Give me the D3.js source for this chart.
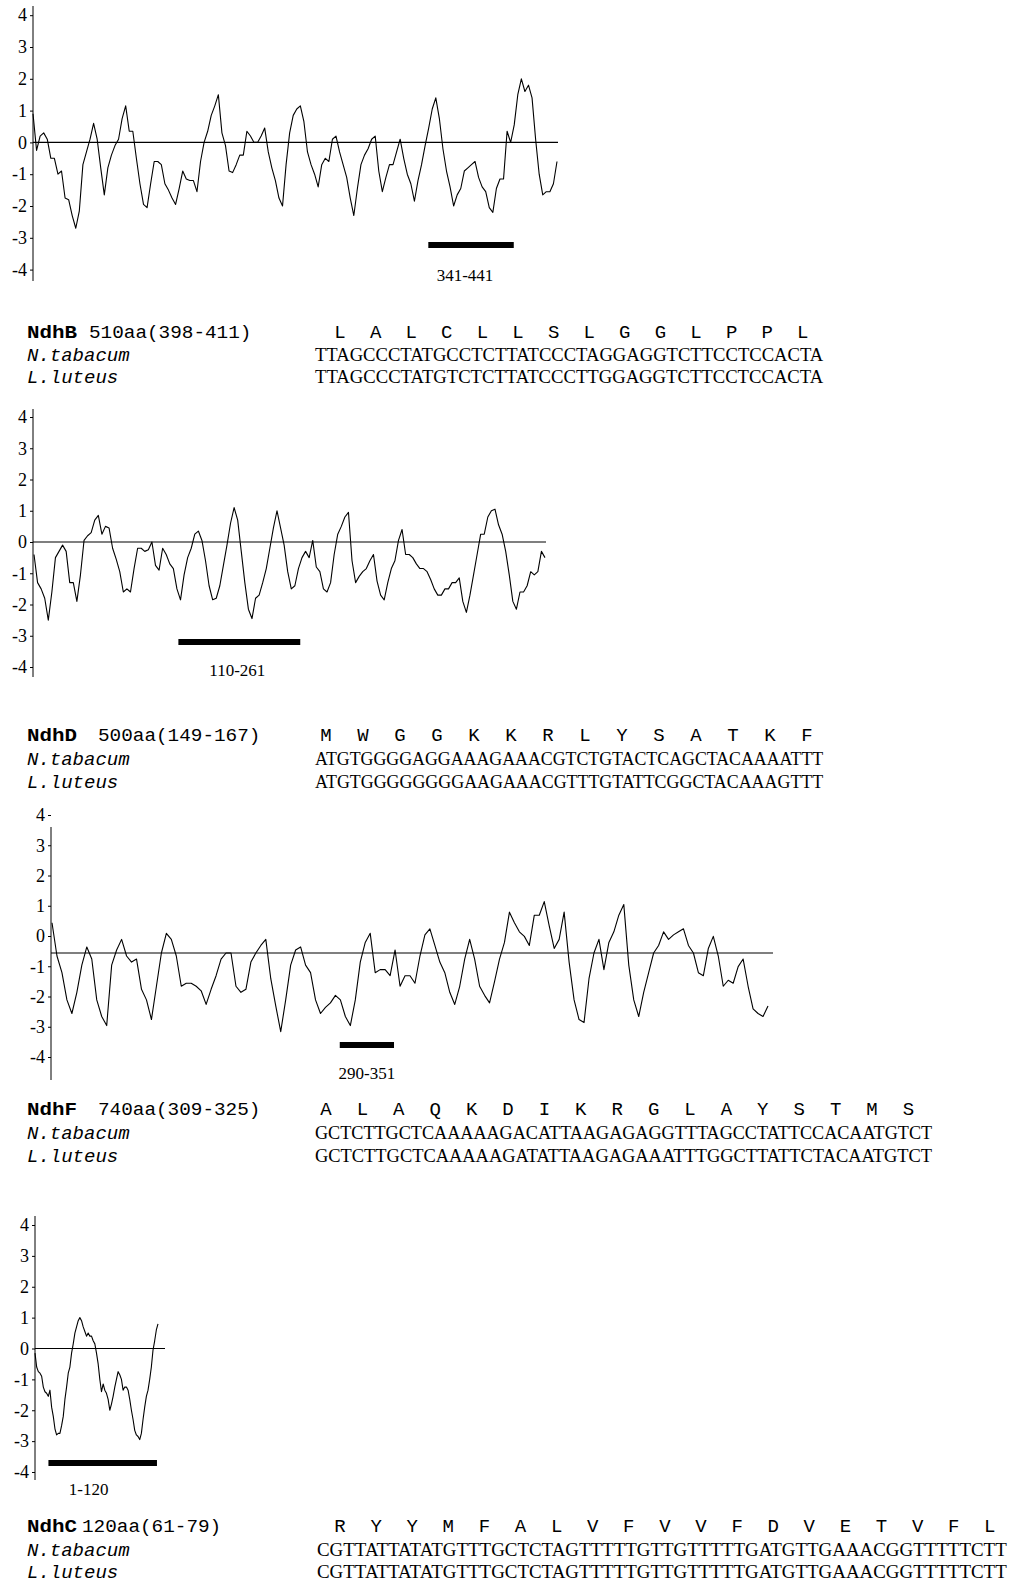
<!DOCTYPE html>
<html>
<head>
<meta charset="utf-8">
<script src="https://cdn.jsdelivr.net/npm/d3@7"></script>
<style>
  body { margin: 0; background: #fff; }
  svg { display: block; }
</style>
</head>
<body>
<svg id="fig" width="1013" height="1584"></svg>
<script>
// hydropathy profiles, values at even steps along each protein
const yTicks = [-4, -3, -2, -1, 0, 1, 2, 3, 4]

const ndhBLength = 510
const ndhBProfile = [
  0.9, -0.25, 0.2, 0.3, 0.1, -0.5, -0.5, -1.0, -0.9, -1.75,
  -1.8, -2.3, -2.7, -2.15, -0.7, -0.3, 0.1, 0.6, 0.1, -0.8,
  -1.65, -0.8, -0.4, -0.1, 0.1, 0.75, 1.15, 0.35, 0.35, -0.5,
  -1.3, -1.95, -2.05, -1.3, -0.6, -0.6, -0.7, -1.3, -1.5, -1.75,
  -1.95, -1.45, -0.9, -1.15, -1.2, -1.2, -1.55, -0.6, 0.0, 0.35,
  0.85, 1.15, 1.5, 0.3, -0.1, -0.9, -0.95, -0.7, -0.4, -0.4,
  0.35, 0.2, 0.0, 0.0, 0.2, 0.45, -0.3, -0.8, -1.2, -1.75,
  -2.0, -0.7, 0.3, 0.85, 1.05, 1.15, 0.65, -0.3, -0.7, -1.0,
  -1.4, -0.7, -0.5, -0.6, 0.1, 0.2, -0.3, -0.7, -1.1, -1.75,
  -2.3, -1.45, -0.7, -0.4, -0.2, 0.1, 0.2, -0.9, -1.55, -1.1,
  -0.7, -0.7, -0.3, 0.1, -0.5, -1.0, -1.3, -1.85, -1.2, -0.7,
  -0.1, 0.45, 1.05, 1.4, 0.75, -0.2, -0.9, -1.4, -2.0, -1.65,
  -1.45, -0.9, -0.8, -0.7, -0.6, -1.1, -1.4, -1.55, -2.05, -2.2,
  -1.45, -1.15, -1.15, 0.35, 0.0, 0.55, 1.5, 2.0, 1.6, 1.8,
  1.4, 0.1, -1.0, -1.65, -1.55, -1.55, -1.3, -0.6
]
const ndhBRegion = [385, 468]
const ndhBRegionLabel = '341-441'

const ndhDLength = 500
const ndhDProfile = [
  -0.4, -1.3, -1.5, -1.8, -2.5, -1.6, -0.5, -0.3, -0.1, -0.3,
  -1.3, -1.3, -1.9, -1.05, 0.05, 0.2, 0.3, 0.7, 0.85, 0.25,
  0.5, 0.45, -0.2, -0.55, -0.95, -1.6, -1.5, -1.6, -0.85, -0.2,
  -0.2, -0.3, -0.25, 0.0, -0.75, -0.9, -0.2, -0.4, -0.7, -0.85,
  -1.5, -1.85, -1.05, -0.5, -0.2, 0.25, 0.35, 0.05, -0.6, -1.4,
  -1.85, -1.8, -1.4, -0.75, -0.1, 0.6, 1.1, 0.7, -0.3, -1.3,
  -2.15, -2.45, -1.8, -1.7, -1.3, -0.85, -0.2, 0.45, 1.0, 0.45,
  -0.1, -0.95, -1.5, -1.4, -0.85, -0.5, -0.3, -0.5, 0.05, -0.8,
  -0.95, -1.5, -1.6, -1.3, -0.4, 0.25, 0.5, 0.8, 0.95, -0.6,
  -1.3, -1.1, -0.95, -0.85, -0.6, -0.4, -1.25, -1.7, -1.85, -1.3,
  -0.85, -0.6, 0.05, 0.4, -0.4, -0.4, -0.5, -0.7, -0.85, -0.85,
  -0.95, -1.2, -1.5, -1.7, -1.7, -1.5, -1.5, -1.3, -1.3, -1.15,
  -1.9, -2.25, -1.7, -1.05, -0.4, 0.25, 0.25, 0.8, 1.0, 1.05,
  0.55, 0.25, -0.3, -1.05, -1.9, -2.15, -1.6, -1.6, -1.4, -0.95,
  -1.05, -0.95, -0.3, -0.5
]
const ndhDRegion = [142, 261]
const ndhDRegionLabel = '110-261'

const ndhFLength = 740
const ndhFProfile = [
  1.0, -0.1, -0.65, -1.55, -2.0, -1.3, -0.4, 0.2, -0.2, -1.55,
  -2.1, -2.4, -0.4, 0.1, 0.45, -0.1, -0.3, -0.2, -1.2, -1.55,
  -2.2, -1.1, 0.0, 0.65, 0.45, -0.1, -1.1, -1.0, -1.0, -1.1,
  -1.25, -1.7, -1.2, -0.75, -0.2, 0.0, 0.0, -1.1, -1.3, -1.2,
  -0.3, 0.0, 0.25, 0.45, -0.85, -1.75, -2.6, -1.55, -0.4, 0.1,
  0.2, -0.4, -0.65, -1.55, -2.0, -1.8, -1.65, -1.4, -1.55, -2.1,
  -2.4, -1.55, -0.3, 0.35, 0.65, -0.65, -0.55, -0.55, -0.75, 0.1,
  -1.1, -0.75, -0.75, -1.0, -0.1, 0.6, 0.8, 0.25, -0.3, -0.65,
  -1.3, -1.7, -1.1, -0.2, 0.45, -0.2, -1.1, -1.4, -1.65, -0.95,
  -0.2, 0.35, 1.35, 1.0, 0.7, 0.55, 0.25, 1.25, 1.25, 1.7,
  0.9, 0.15, 0.45, 1.35, -0.3, -1.55, -2.2, -2.3, -0.85, 0.0,
  0.45, -0.55, 0.35, 0.7, 1.25, 1.6, -0.4, -1.55, -2.1, -1.3,
  -0.65, 0.0, 0.25, 0.7, 0.45, 0.6, 0.7, 0.8, 0.25, 0.0,
  -0.65, -0.75, 0.15, 0.55, -0.1, -1.1, -0.9, -1.0, -0.45, -0.2,
  -1.1, -1.85, -2.0, -2.1, -1.75
]
const ndhFRegion = [298, 354]
const ndhFRegionLabel = '290-351'

const ndhCLength = 120
const ndhCProfile = [
  -0.15, -0.6, -0.75, -0.8, -0.9, -1.25, -1.4, -1.45, -1.55, -1.35,
  -1.9, -2.2, -2.6, -2.8, -2.75, -2.75, -2.5, -2.2, -1.65, -1.25,
  -0.8, -0.6, -0.15, 0.15, 0.5, 0.7, 0.9, 1.0, 0.9, 0.7,
  0.55, 0.4, 0.5, 0.4, 0.4, 0.25, 0.15, -0.15, -0.5, -1.0,
  -1.4, -1.15, -1.35, -1.45, -1.65, -2.0, -1.8, -1.55, -1.25, -1.0,
  -0.75, -0.85, -1.0, -1.35, -1.25, -1.25, -1.35, -1.65, -2.0, -2.3,
  -2.65, -2.8, -2.85, -2.95, -2.75, -2.3, -1.9, -1.55, -1.35, -1.0,
  -0.6, -0.05, 0.25, 0.6, 0.8
]
const ndhCRegion = [14, 119]
const ndhCRegionLabel = '1-120'

// sequence rows
const ndhBInfo = '510aa(398-411)'
const ndhBAmino = ['L', 'A', 'L', 'C', 'L', 'L', 'S', 'L', 'G', 'G', 'L', 'P', 'P', 'L']
const ndhBTabacum = 'TTAGCCCTATGCCTCTTATCCCTAGGAGGTCTTCCTCCACTA'
const ndhBLuteus = 'TTAGCCCTATGTCTCTTATCCCTTGGAGGTCTTCCTCCACTA'

const ndhDInfo = '500aa(149-167)'
const ndhDAmino = ['M', 'W', 'G', 'G', 'K', 'K', 'R', 'L', 'Y', 'S', 'A', 'T', 'K', 'F']
const ndhDTabacum = 'ATGTGGGGAGGAAAGAAACGTCTGTACTCAGCTACAAAATTT'
const ndhDLuteus = 'ATGTGGGGGGGGAAGAAACGTTTGTATTCGGCTACAAAGTTT'

const ndhFInfo = '740aa(309-325)'
const ndhFAmino = ['A', 'L', 'A', 'Q', 'K', 'D', 'I', 'K', 'R', 'G', 'L', 'A', 'Y', 'S', 'T', 'M', 'S']
const ndhFTabacum = 'GCTCTTGCTCAAAAAGACATTAAGAGAGGTTTAGCCTATTCCACAATGTCT'
const ndhFLuteus = 'GCTCTTGCTCAAAAAGATATTAAGAGAAATTTGGCTTATTCTACAATGTCT'

const ndhCInfo = '120aa(61-79)'
const ndhCAmino = ['R', 'Y', 'Y', 'M', 'F', 'A', 'L', 'V', 'F', 'V', 'V', 'F', 'D', 'V', 'E', 'T', 'V', 'F', 'L']
const ndhCTabacum = 'CGTTATTATATGTTTGCTCTAGTTTTTGTTGTTTTTGATGTTGAAACGGTTTTTCTT'
const ndhCLuteus = 'CGTTATTATATGTTTGCTCTAGTTTTTGTTGTTTTTGATGTTGAAACGGTTTTTCTT'

const svg = d3.select('#fig')
const serif = "'Liberation Serif', 'Times New Roman', serif"
const mono = "'Liberation Mono', 'DejaVu Sans Mono', monospace"

drawPanel({
  length: ndhBLength, profile: ndhBProfile, region: ndhBRegion, regionLabel: ndhBRegionLabel,
  axisX: 33, axisTop: 6, axisBottom: 281, tickRange: [269.6, 15.2], traceRange: [269.6, 15.2],
  xRange: [33, 557], zeroEnd: 558, barY: 245, labelY: 281, labelDx: -6
})
drawPanel({
  length: ndhDLength, profile: ndhDProfile, region: ndhDRegion, regionLabel: ndhDRegionLabel,
  axisX: 33, axisTop: 409, axisBottom: 677, tickRange: [667, 417], traceRange: [667, 417],
  xRange: [34, 545], zeroEnd: 546, barY: 642, labelY: 676, labelDx: -2
})
drawPanel({
  length: ndhFLength, profile: ndhFProfile, region: ndhFRegion, regionLabel: ndhFRegionLabel,
  axisX: 51, axisTop: 827, axisBottom: 1080, tickRange: [1057, 815], traceRange: [1074, 832],
  xRange: [52, 768], zeroEnd: 773, barY: 1045, labelY: 1079, labelDx: 0
})
drawPanel({
  length: ndhCLength, profile: ndhCProfile, region: ndhCRegion, regionLabel: ndhCRegionLabel,
  axisX: 35, axisTop: 1216, axisBottom: 1480, tickRange: [1472, 1225], traceRange: [1472, 1225],
  xRange: [35, 158], zeroEnd: 165, barY: 1463, labelY: 1495, labelDx: -14
})

drawSequence({ name: 'NdhB', info: ndhBInfo, infoX: 89, amino: ndhBAmino, aaX: 340, aaStep: 35.6,
  tab: ndhBTabacum, lut: ndhBLuteus, dnaX: 315, rows: [338, 361, 383] })
drawSequence({ name: 'NdhD', info: ndhDInfo, infoX: 98, amino: ndhDAmino, aaX: 326, aaStep: 37,
  tab: ndhDTabacum, lut: ndhDLuteus, dnaX: 315, rows: [741, 765, 788] })
drawSequence({ name: 'NdhF', info: ndhFInfo, infoX: 98, amino: ndhFAmino, aaX: 326, aaStep: 36.4,
  tab: ndhFTabacum, lut: ndhFLuteus, dnaX: 315, rows: [1115, 1139, 1162] })
drawSequence({ name: 'NdhC', info: ndhCInfo, infoX: 82, amino: ndhCAmino, aaX: 340, aaStep: 36.1,
  tab: ndhCTabacum, lut: ndhCLuteus, dnaX: 317, rows: [1532, 1556, 1578] })

function drawPanel(p) {
  const g = svg.append('g')
  const x = d3.scaleLinear().domain([1, p.length]).range(p.xRange)
  const step = (p.length - 1) / (p.profile.length - 1)
  const yTick = d3.scaleLinear().domain([-4, 4]).range(p.tickRange)
  const y = d3.scaleLinear().domain([-4, 4]).range(p.traceRange)

  g.append('line')
    .attr('x1', p.axisX).attr('x2', p.axisX)
    .attr('y1', p.axisTop).attr('y2', p.axisBottom)
    .attr('stroke', '#000').attr('stroke-width', 1)

  const axis = g.append('g')
    .attr('transform', `translate(${p.axisX},0)`)
    .call(d3.axisLeft(yTick).tickValues(yTicks).tickSize(3).tickPadding(3).tickFormat(d => String(d)))
  axis.select('.domain').remove()
  axis.selectAll('.tick line').attr('stroke', '#000')
  axis.selectAll('.tick text')
    .attr('fill', '#000')
    .style('font-family', serif)
    .style('font-size', '18px')

  // zero line
  g.append('line')
    .attr('x1', p.axisX).attr('x2', p.zeroEnd)
    .attr('y1', y(0)).attr('y2', y(0))
    .attr('stroke', '#000').attr('stroke-width', 1.1)

  g.append('path')
    .datum(p.profile)
    .attr('fill', 'none')
    .attr('stroke', '#000')
    .attr('stroke-width', 1.1)
    .attr('stroke-linejoin', 'round')
    .attr('d', d3.line().x((d, i) => x(1 + i * step)).y(d => y(d)))

  g.append('rect')
    .attr('x', x(p.region[0]))
    .attr('width', x(p.region[1]) - x(p.region[0]))
    .attr('y', p.barY - 3)
    .attr('height', 6)
    .attr('fill', '#000')

  g.append('text')
    .attr('x', (x(p.region[0]) + x(p.region[1])) / 2 + p.labelDx)
    .attr('y', p.labelY)
    .attr('text-anchor', 'middle')
    .style('font-family', serif)
    .style('font-size', '17px')
    .text(p.regionLabel)
}

function drawSequence(s) {
  const charW = 12.1
  const g = svg.append('g')
  g.append('text')
    .attr('x', 27).attr('y', s.rows[0])
    .attr('textLength', 50).attr('lengthAdjust', 'spacingAndGlyphs')
    .style('font-family', mono).style('font-size', '19px').style('font-weight', 'bold')
    .text(s.name)
  g.append('text')
    .attr('x', s.infoX).attr('y', s.rows[0])
    .attr('textLength', s.info.length * 11.6).attr('lengthAdjust', 'spacingAndGlyphs')
    .style('font-family', mono).style('font-size', '19px')
    .text(s.info)

  g.selectAll('text.aa')
    .data(s.amino)
    .join('text')
    .attr('class', 'aa')
    .attr('x', (d, i) => s.aaX + i * s.aaStep)
    .attr('y', s.rows[0])
    .attr('text-anchor', 'middle')
    .style('font-family', mono).style('font-size', '19px')
    .text(d => d)

  const species = [['N.tabacum', s.tab], ['L.luteus', s.lut]]
  species.forEach(([sp, seq], k) => {
    g.append('text')
      .attr('x', 27).attr('y', s.rows[k + 1])
      .style('font-family', mono).style('font-size', '19px').style('font-style', 'italic')
      .text(sp)
    g.append('text')
      .attr('x', s.dnaX).attr('y', s.rows[k + 1])
      .attr('textLength', seq.length * charW)
      .attr('lengthAdjust', 'spacingAndGlyphs')
      .style('font-family', serif).style('font-size', '18px')
      .text(seq)
  })
}
</script>
</body>
</html>
